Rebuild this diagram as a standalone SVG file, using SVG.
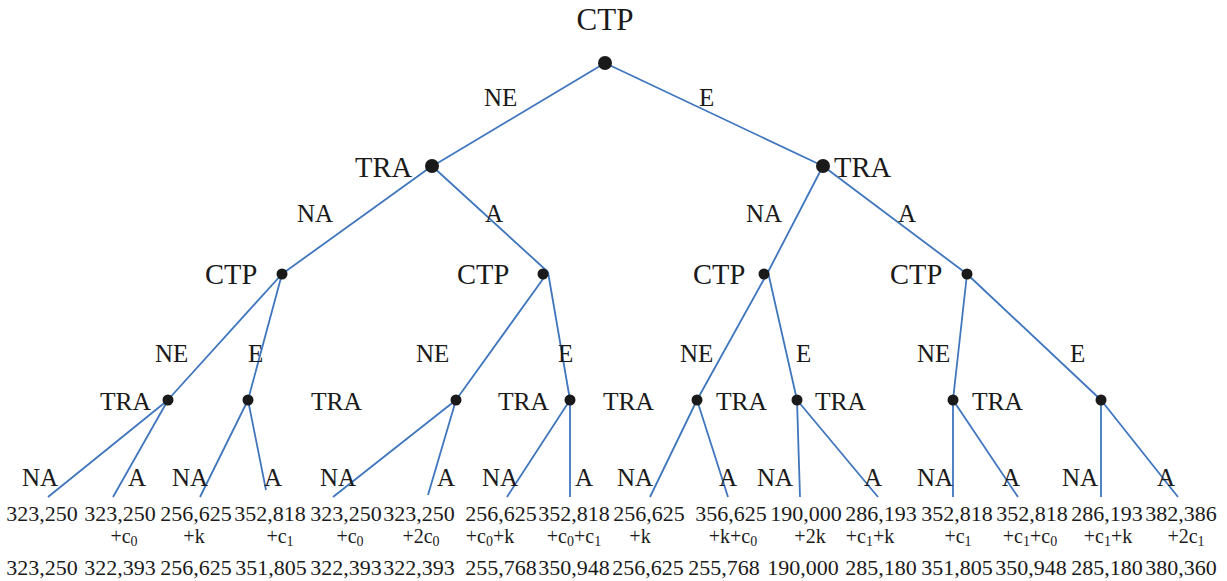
<svg xmlns="http://www.w3.org/2000/svg" width="1227" height="581" viewBox="0 0 1227 581">
<style>
text{font-family:"Liberation Serif","Times New Roman",serif;fill:#1a1a1a}
.lbl{font-size:25px}
.big{font-size:28.5px}
.t3{font-size:25.5px}
.top{font-size:31px;text-anchor:middle}
.num{font-size:22px;text-anchor:middle}
.sub{font-size:20px;text-anchor:middle}
.s{font-size:14px}
.e{stroke:#3f76bd;stroke-width:1.8;fill:none}
.d{fill:#1a1a1a}
</style>
<rect width="1227" height="581" fill="#fff"/>
<g id="connectors">
<path class="e" d="M605,63 L426,170 M605,63 L823,166"/>
<path class="e" d="M432,166 L282,274 M432,166 L548,272 M823,166 L768,272 M823,166 L967,274"/>
<path class="e" d="M282,274 L166,402 M282,274 L248,400 M548,272 L456,400 M548,272 L570,400 M768,272 L697,400 M768,272 L797,400 M967,274 L953,400 M967,274 L1101,400"/>
<path class="e" d="M168,400 L48,497 M168,400 L113,497 M248,400 L200,497 M248,400 L266,490 M456,400 L333,497 M456,400 L428,495 M570,400 L507,497 M570,400 L570,497 M697,400 L650,497 M697,400 L728,497 M797,400 L800,497 M797,400 L878,497 M953,400 L953,497 M953,400 L1018,497 M1101,400 L1101,497 M1101,400 L1178,497"/>
</g>
<g id="n0"><circle class="d" cx="605" cy="63" r="7"/><text class="top" x="605" y="30">CTP</text></g>
<g id="n1"><circle class="d" cx="432" cy="166" r="7"/><text class="big" x="355" y="177">TRA</text></g>
<g id="n2"><circle class="d" cx="823" cy="166" r="7"/><text class="big" x="834" y="177">TRA</text></g>
<g id="n3"><circle class="d" cx="282" cy="274" r="5.5"/><text class="big" x="205" y="284">CTP</text></g>
<g id="n4"><circle class="d" cx="543" cy="274" r="5.5"/><text class="big" x="457" y="284">CTP</text></g>
<g id="n5"><circle class="d" cx="764" cy="274" r="5.5"/><text class="big" x="693" y="284">CTP</text></g>
<g id="n6"><circle class="d" cx="967" cy="274" r="5.5"/><text class="big" x="890" y="284">CTP</text></g>
<g id="n7"><circle class="d" cx="168" cy="400" r="5.5"/><text class="t3" x="100" y="410">TRA</text></g>
<g id="n8"><circle class="d" cx="248" cy="400" r="5.5"/><text class="t3" x="311" y="410">TRA</text></g>
<g id="n9"><circle class="d" cx="456" cy="400" r="5.5"/><text class="t3" x="498" y="410">TRA</text></g>
<g id="n10"><circle class="d" cx="570" cy="400" r="5.5"/><text class="t3" x="603" y="410">TRA</text></g>
<g id="n11"><circle class="d" cx="697" cy="400" r="5.5"/><text class="t3" x="716" y="410">TRA</text></g>
<g id="n12"><circle class="d" cx="797" cy="400" r="5.5"/><text class="t3" x="815" y="410">TRA</text></g>
<g id="n13"><circle class="d" cx="953" cy="400" r="5.5"/><text class="t3" x="972" y="410">TRA</text></g>
<g id="n14"><circle class="d" cx="1101" cy="400" r="5.5"/></g>
<g id="edge-labels">
<text class="lbl" x="484" y="106">NE</text><text class="lbl" x="699" y="106">E</text>
<text class="lbl" x="297" y="222">NA</text><text class="lbl" x="485" y="222">A</text>
<text class="lbl" x="746" y="222">NA</text><text class="lbl" x="898" y="222">A</text>
<text class="lbl" x="155" y="362">NE</text><text class="lbl" x="248" y="362">E</text>
<text class="lbl" x="416" y="362">NE</text><text class="lbl" x="558" y="362">E</text>
<text class="lbl" x="680" y="362">NE</text><text class="lbl" x="796" y="362">E</text>
<text class="lbl" x="917" y="362">NE</text><text class="lbl" x="1070" y="362">E</text>
<text class="lbl" x="22" y="486">NA</text><text class="lbl" x="128" y="486">A</text>
<text class="lbl" x="172" y="486">NA</text><text class="lbl" x="264" y="486">A</text>
<text class="lbl" x="320" y="486">NA</text><text class="lbl" x="437" y="486">A</text>
<text class="lbl" x="482" y="486">NA</text><text class="lbl" x="575" y="486">A</text>
<text class="lbl" x="617" y="486">NA</text><text class="lbl" x="719" y="486">A</text>
<text class="lbl" x="757" y="486">NA</text><text class="lbl" x="864" y="486">A</text>
<text class="lbl" x="917" y="486">NA</text><text class="lbl" x="1002" y="486">A</text>
<text class="lbl" x="1062" y="486">NA</text><text class="lbl" x="1157" y="486">A</text>
</g>
<g id="payoffs">
<text class="num" x="42" y="521">323,250</text>
<text class="num" x="120" y="521">323,250</text>
<text class="num" x="196" y="521">256,625</text>
<text class="num" x="270" y="521">352,818</text>
<text class="num" x="346" y="521">323,250</text>
<text class="num" x="419" y="521">323,250</text>
<text class="num" x="501" y="521">256,625</text>
<text class="num" x="574" y="521">352,818</text>
<text class="num" x="649" y="521">256,625</text>
<text class="num" x="731" y="521">356,625</text>
<text class="num" x="806" y="521">190,000</text>
<text class="num" x="881" y="521">286,193</text>
<text class="num" x="957" y="521">352,818</text>
<text class="num" x="1032" y="521">352,818</text>
<text class="num" x="1107" y="521">286,193</text>
<text class="num" x="1181" y="521">382,386</text>

<text class="sub" x="124" y="543">+c<tspan class="s" dy="3">0</tspan></text>
<text class="sub" x="194" y="543">+k</text>
<text class="sub" x="280" y="543">+c<tspan class="s" dy="3">1</tspan></text>
<text class="sub" x="350" y="543">+c<tspan class="s" dy="3">0</tspan></text>
<text class="sub" x="421" y="543">+2c<tspan class="s" dy="3">0</tspan></text>
<text class="sub" x="490" y="543">+c<tspan class="s" dy="3">0</tspan><tspan dy="-3">+k</tspan></text>
<text class="sub" x="574" y="543">+c<tspan class="s" dy="3">0</tspan><tspan dy="-3">+c</tspan><tspan class="s" dy="3">1</tspan></text>
<text class="sub" x="640" y="543">+k</text>
<text class="sub" x="733" y="543">+k+c<tspan class="s" dy="3">0</tspan></text>
<text class="sub" x="810" y="543">+2k</text>
<text class="sub" x="870" y="543">+c<tspan class="s" dy="3">1</tspan><tspan dy="-3">+k</tspan></text>
<text class="sub" x="958" y="543">+c<tspan class="s" dy="3">1</tspan></text>
<text class="sub" x="1030" y="543">+c<tspan class="s" dy="3">1</tspan><tspan dy="-3">+c</tspan><tspan class="s" dy="3">0</tspan></text>
<text class="sub" x="1108" y="543">+c<tspan class="s" dy="3">1</tspan><tspan dy="-3">+k</tspan></text>
<text class="sub" x="1186" y="543">+2c<tspan class="s" dy="3">1</tspan></text>

<text class="num" x="42" y="575">323,250</text>
<text class="num" x="120" y="575">322,393</text>
<text class="num" x="196" y="575">256,625</text>
<text class="num" x="271" y="575">351,805</text>
<text class="num" x="346" y="575">322,393</text>
<text class="num" x="419" y="575">322,393</text>
<text class="num" x="501" y="575">255,768</text>
<text class="num" x="574" y="575">350,948</text>
<text class="num" x="648" y="575">256,625</text>
<text class="num" x="724" y="575">255,768</text>
<text class="num" x="803" y="575">190,000</text>
<text class="num" x="881" y="575">285,180</text>
<text class="num" x="957" y="575">351,805</text>
<text class="num" x="1031" y="575">350,948</text>
<text class="num" x="1107" y="575">285,180</text>
<text class="num" x="1181" y="575">380,360</text>
</g>
</svg>
